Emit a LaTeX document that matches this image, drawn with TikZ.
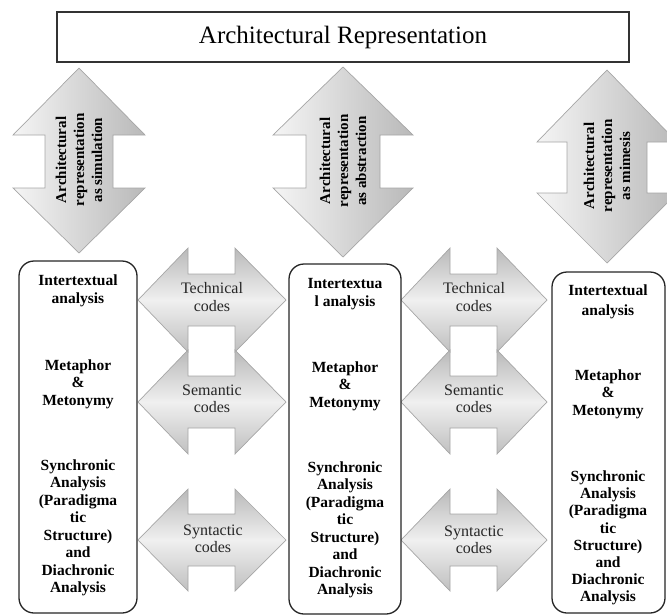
\documentclass[tikz,border=0pt]{standalone}
\usepackage{fontspec}
\setmainfont{Liberation Serif}
\newcommand\vdarrow[7]{% cx, tip, upper base, lower base, bottom tip, head half, shaft half
  \path[varrow] (#1,#2) -- (#1+#6,#3) -- (#1+#7,#3) -- (#1+#7,#4) -- (#1+#6,#4) -- (#1,#5)
    -- (#1-#6,#4) -- (#1-#7,#4) -- (#1-#7,#3) -- (#1-#6,#3) -- cycle;}
\newcommand\hdarrow[7]{% cy, left tip, left base, right base, right tip, head half, shaft half
  \path[harrow] (#2,#1) -- (#3,#1-#6) -- (#3,#1-#7) -- (#4,#1-#7) -- (#4,#1-#6) -- (#5,#1)
    -- (#4,#1+#6) -- (#4,#1+#7) -- (#3,#1+#7) -- (#3,#1+#6) -- cycle;}
\begin{document}
\begin{tikzpicture}[x=1pt,y=-1pt,
  boxtxt/.style={font=\fontsize{15.5}{17.5}\selectfont\bfseries, align=center, inner sep=0pt},
  codetxt/.style={font=\fontsize{16}{17.5}\selectfont, align=center, text=black!85, inner sep=0pt},
  vtxt/.style={font=\fontsize{15}{18}\selectfont\bfseries, align=center, rotate=90, inner sep=0pt},
  varrow/.style={draw=gray!70, line width=0.7pt, left color=gray!8, right color=gray!55},
  harrow/.style={draw=gray!70, line width=0.7pt, top color=gray!55, bottom color=gray!50, middle color=gray!12},
  panel/.style={draw=black!85, line width=1.3pt, rounded corners=15pt, fill=white, inner sep=0pt},
  titlebox/.style={draw=black!80, line width=1.3pt, fill=white, inner sep=0pt,
    font=\fontsize{25}{28}\selectfont}]
\useasboundingbox (0,0) rectangle (667,616);
\clip (0,0) rectangle (667,616);

% title
\node[titlebox, minimum width=572pt, minimum height=50pt] (title) at (343,37) {Architectural Representation};

% vertical double arrows
\vdarrow{79}{68}{135}{188}{253}{66}{34}
\vdarrow{343}{67}{135}{188}{257}{70}{37}
\vdarrow{607}{70}{142}{193}{263}{70}{40}
\node[vtxt] (va) at (79,160) {Architectural\\representation\\as simulation};
\node[vtxt] (vb) at (343,161) {Architectural\\representation\\as abstraction};
\node[vtxt] (vc) at (607,166) {Architectural\\representation\\as mimesis};

% horizontal double arrows, left set
\hdarrow{300}{138}{188}{235}{286}{52}{26}
\hdarrow{402}{138}{188}{235}{286}{52}{26}
\hdarrow{540}{138}{188}{235}{286}{51}{26}
% right set
\hdarrow{300}{401}{450}{497}{547}{52}{26}
\hdarrow{402}{401}{450}{497}{547}{52}{26}
\hdarrow{540}{401}{450}{497}{547}{51}{26}

\node[codetxt] (tc1) at (212,297) {Technical\\codes};
\node[codetxt] (sc1) at (212,399) {Semantic\\codes};
\node[codetxt] (yc1) at (213,539) {Syntactic\\codes};
\node[codetxt] (tc2) at (474,297) {Technical\\codes};
\node[codetxt] (sc2) at (474,399) {Semantic\\codes};
\node[codetxt] (yc2) at (474,540) {Syntactic\\codes};

% panels
\node[panel, minimum width=118pt, minimum height=352pt] (lbox) at (78,437) {};
\node[panel, minimum width=112pt, minimum height=350pt] (mbox) at (345,439) {};
\node[panel, minimum width=113pt, minimum height=341pt] (rbox) at (608.5,442.5) {};

% left panel texts
\node[boxtxt] (l1) at (78,291) {Intertextual\\analysis};
\node[boxtxt] (l2) at (78,384) {Metaphor\\\&\\Metonymy};
\node[boxtxt] (l3) at (78,528) {Synchronic\\Analysis\\(Paradigma\\tic\\Structure)\\and\\Diachronic\\Analysis};
% middle panel texts
\node[boxtxt] (m1) at (345,294) {Intertextua\\l analysis};
\node[boxtxt] (m2) at (345,386) {Metaphor\\\&\\Metonymy};
\node[boxtxt] (m3) at (345,530) {Synchronic\\Analysis\\(Paradigma\\tic\\Structure)\\and\\Diachronic\\Analysis};
% right panel texts
\node[boxtxt, font=\fontsize{15.5}{19.5}\selectfont\bfseries] (r1) at (608,302) {Intertextual\\analysis};
\node[boxtxt] (r2) at (608,394) {Metaphor\\\&\\Metonymy};
\node[boxtxt, font=\fontsize{15.5}{17.2}\selectfont\bfseries] (r3) at (608,538) {Synchronic\\Analysis\\(Paradigma\\tic\\Structure)\\and\\Diachronic\\Analysis};
\end{tikzpicture}
\end{document}
